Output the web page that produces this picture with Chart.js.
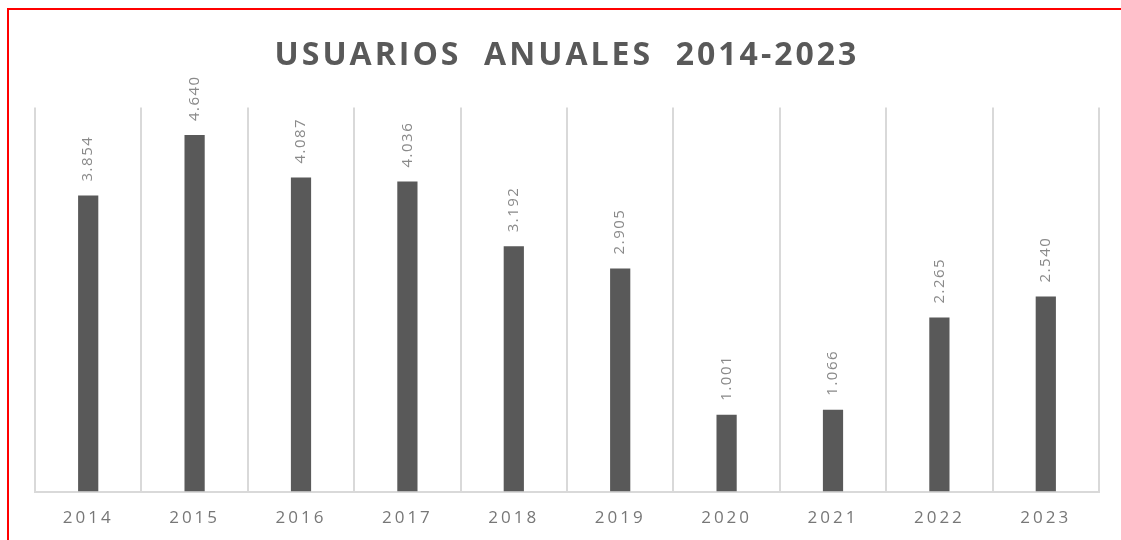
<!DOCTYPE html>
<html>
<head>
<meta charset="utf-8">
<script src="https://cdn.jsdelivr.net/npm/chart.js@4.4.1/dist/chart.umd.min.js"></script>
<style>
    html, body { margin: 0; padding: 0; background: #fff; }
    #wrap { position: relative; width: 1121px; height: 540px; }
    #frame {
        position: absolute; left: 7px; top: 8px; right: 0; bottom: 0;
        border-top: 2px solid #ff0000; border-left: 2px solid #ff0000;
        pointer-events: none;
    }
</style>
</head>
<body>
<div id="wrap">
    <canvas id="chart" width="1121" height="540"></canvas>
    <div id="frame"></div>
</div>
<script>
// Data
const years = ['2014', '2015', '2016', '2017', '2018', '2019', '2020', '2021', '2022', '2023'];
const users = [3854, 4640, 4087, 4036, 3192, 2905, 1001, 1066, 2265, 2540];

// Spanish-style thousands separator
function fmt(v) {
    return v.toString().replace(/\B(?=(\d{3})+(?!\d))/g, '.');
}

// Letter spacing for title and axis labels
const spacingPlugin = {
    id: 'spacing',
    beforeDraw(chart) {
        chart.ctx.letterSpacing = '3px';
    }
};

// Rotated value labels above each bar
const valueLabels = {
    id: 'valueLabels',
    afterDatasetsDraw(chart) {
        const ctx = chart.ctx;
        const meta = chart.getDatasetMeta(0);
        ctx.save();
        ctx.letterSpacing = '1.5px';
        ctx.font = '15px "Open Sans"';
        ctx.fillStyle = '#8a8a8a';
        ctx.textAlign = 'left';
        ctx.textBaseline = 'middle';
        meta.data.forEach((bar, i) => {
            ctx.save();
            ctx.translate(bar.x, bar.y - 14);
            ctx.rotate(-Math.PI / 2);
            ctx.fillText(fmt(users[i]), 0, 0);
            ctx.restore();
        });
        ctx.restore();
    }
};

const ctx = document.getElementById('chart').getContext('2d');
new Chart(ctx, {
    type: 'bar',
    data: {
        labels: years,
        datasets: [{
            data: users,
            backgroundColor: '#595959',
            categoryPercentage: 1,
            barPercentage: 0.19
        }]
    },
    options: {
        responsive: false,
        animation: false,
        layout: { padding: { left: 35, right: 22, top: 0, bottom: -4 } },
        plugins: {
            legend: { display: false },
            tooltip: { enabled: false },
            title: {
                display: true,
                text: 'USUARIOS  ANUALES  2014-2023',
                color: '#595959',
                font: { family: 'Open Sans', size: 32, weight: 'bold' },
                padding: { top: 37, bottom: 32 }
            }
        },
        scales: {
            x: {
                grid: { display: true, color: '#d9d9d9', lineWidth: 2, drawTicks: false },
                border: { display: true, color: '#d9d9d9', width: 2 },
                ticks: {
                    color: '#777777',
                    padding: 16,
                    font: { family: 'Open Sans', size: 17 }
                }
            },
            y: {
                display: false,
                min: 0,
                max: 5000
            }
        }
    },
    plugins: [spacingPlugin, valueLabels]
});
</script>
</body>
</html>
